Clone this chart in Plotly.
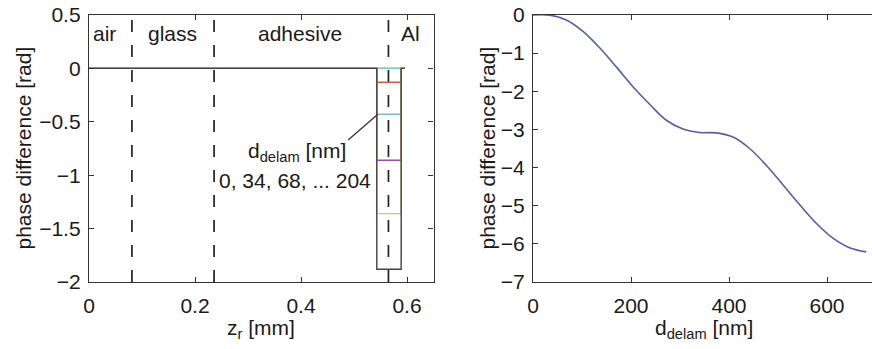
import plotly.graph_objects as go

# Phase difference vs delamination thickness (right panel)
d_delam = [0, 34, 68, 102, 136, 170, 204, 238, 272, 306, 340,
           374, 408, 442, 476, 510, 544, 578, 612, 646, 680]
phase = [0.0, -0.003, -0.13, -0.43, -0.86, -1.36, -1.88, -2.34, -2.76, -2.99, -3.08,
         -3.09, -3.20, -3.50, -3.94, -4.45, -4.97, -5.46, -5.85, -6.10, -6.21]

# Layer interfaces along z_r [mm] and the Al probe window
interfaces = [0.081, 0.236, 0.565]
layer_names = ["air", "glass", "adhesive", "Al"]
layer_label_z = [0.030, 0.158, 0.398, 0.606]
probe_window = [0.543, 0.589]
z_end = 0.596

# Profiles shown on the left: first seven delamination steps
n_profiles = 7
profile_colors = ["#5a5ab0", "#78c6c8", "#d45a3c", "#72c4d0", "#9c4ea0", "#cccc52", "#4a3e3e"]

left_xticks = [0, 0.2, 0.4, 0.6]
left_yticks = [-2, -1.5, -1, -0.5, 0, 0.5]
right_xticks = [0, 200, 400, 600]
right_yticks = [-7, -6, -5, -4, -3, -2, -1, 0]

FONT = "Liberation Sans, Arial, sans-serif"
TXT = "#1a1a1a"
AX = "#333333"
FS = 21

fig = go.Figure()

# Dashed layer boundaries
for z in interfaces:
    fig.add_trace(go.Scatter(
        x=[z, z], y=[left_yticks[0], left_yticks[-1]], mode="lines",
        line=dict(color="#222222", width=1.7, dash="12px,13px"),
        xaxis="x", yaxis="y", showlegend=False, hoverinfo="skip"))

# Phase profiles along z for each delamination step
for i in range(n_profiles):
    v = phase[i]
    a, b = probe_window
    fig.add_trace(go.Scatter(
        x=[0, a, a, b, b, z_end], y=[0, 0, v, v, 0, 0], mode="lines",
        line=dict(color=profile_colors[i], width=1.4),
        xaxis="x", yaxis="y", showlegend=False, hoverinfo="skip"))

# Right panel curve
fig.add_trace(go.Scatter(
    x=d_delam, y=phase, mode="lines", line=dict(color="#5b5bab", width=1.6, shape="spline"),
    xaxis="x2", yaxis="y2", showlegend=False))

W, H = 872, 349
L1, R1 = 89, 433.5
L2, R2 = 533, 872
T, B = 15, 282
x2_max = (R2 - L2) / 0.49

axis_common = dict(
    showgrid=False, zeroline=False, showline=True, linecolor=AX, linewidth=1.3,
    ticks="inside", ticklen=5, tickwidth=1.2, tickcolor=AX, automargin=False,
    tickfont=dict(family=FONT, size=FS, color=TXT),
)

fig.update_layout(
    width=W, height=H, margin=dict(l=0, r=0, t=0, b=0, autoexpand=False),
    paper_bgcolor="white", plot_bgcolor="white",
    xaxis=dict(domain=[L1 / W, R1 / W], range=[0, 0.65], tickvals=left_xticks,
               ticktext=["0", "0.2", "0.4", "0.6"], mirror="ticks", anchor="y",
               ticklabelstandoff=5, **axis_common),
    yaxis=dict(domain=[1 - B / H, 1 - T / H], range=[-2, 0.5], tickvals=left_yticks,
               ticktext=["\u22122", "\u22121.5", "\u22121", "\u22120.5", "0", "0.5"],
               mirror="ticks", anchor="x", ticklabelstandoff=3, **axis_common),
    xaxis2=dict(domain=[L2 / W, 1.0], range=[0, x2_max], tickvals=right_xticks,
                mirror="ticks", anchor="y2", ticklabelstandoff=5, **axis_common),
    yaxis2=dict(domain=[1 - B / H, 1 - T / H], range=[-7, 0], tickvals=right_yticks,
                ticktext=["\u2212%d" % -t if t < 0 else "0" for t in right_yticks],
                mirror=False, anchor="x2", ticklabelstandoff=3, **axis_common),
)


def note(x, y, text, xref="x", yref="y", angle=0):
    return dict(x=x, y=y, xref=xref, yref=yref, text=text, showarrow=False,
                xanchor="center", yanchor="middle", textangle=angle,
                font=dict(family=FONT, size=FS, color=TXT))


ann = []
# Layer names
for name, z in zip(layer_names, layer_label_z):
    ann.append(note(z, 0.33, name))
# Note describing the profiles
ann.append(note(0.392, -0.78, "d<sub>delam</sub> [nm]"))
ann.append(note(0.388, -1.05, "0, 34, 68, ... 204"))
# Axis titles
ann.append(note(23 / W, 1 - (T + B) / 2 / H, "phase difference [rad]", "paper", "paper", -90))
ann.append(note(487 / W, 1 - (T + B) / 2 / H, "phase difference [rad]", "paper", "paper", -90))
ann.append(note((L1 + R1) / 2 / W, 1 - 329 / H, "z<sub>r</sub> [mm]", "paper", "paper"))
ann.append(note(704 / W, 1 - 329 / H, "d<sub>delam</sub> [nm]", "paper", "paper"))
fig.update_layout(annotations=ann)

# Leader line from the note to the profiles
fig.add_shape(type="line", xref="x", yref="y", x0=0.489, y0=-0.67, x1=0.545, y1=-0.43,
              line=dict(color="#333333", width=1.3))

fig.write_html("out.html")
